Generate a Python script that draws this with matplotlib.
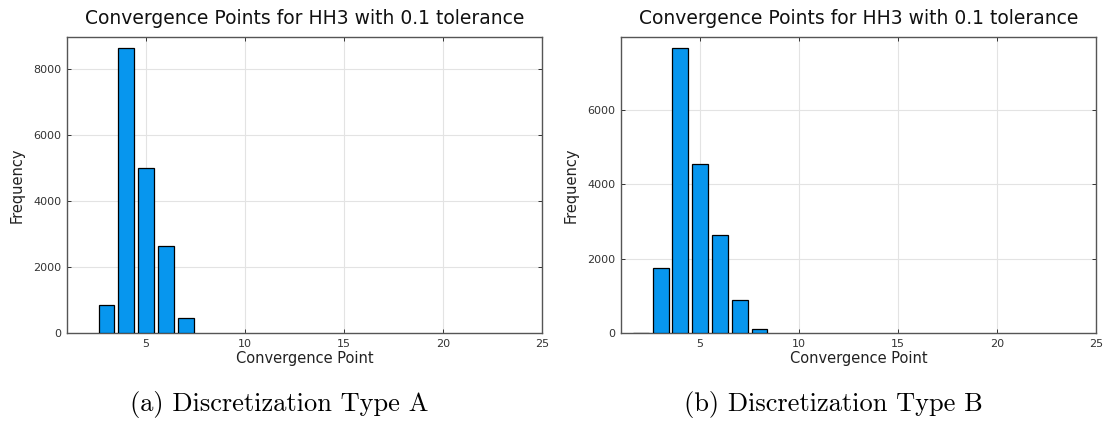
import numpy as np
import matplotlib.pyplot as plt

# convergence point bins and counts
points_a = [3, 4, 5, 6, 7]
counts_a = [850, 8620, 5010, 2650, 455]

points_b = [2, 3, 4, 5, 6, 7, 8]
counts_b = [8, 1745, 7650, 4540, 2635, 880, 108]

title = "Convergence Points for HH3 with 0.1 tolerance"
captions = ["(a) Discretization Type A", "(b) Discretization Type B"]
xticks = [5, 10, 15, 20, 25]

fig = plt.figure(figsize=(11.08, 4.21), dpi=100)
W, H = 1108, 421

def make_panel(left, pts, cnts, yticks, caption, cap_x):
    ax = fig.add_axes([left / W, 1 - 333 / H, 475 / W, 296 / H])
    ax.bar(pts, cnts, width=0.8, color="#0796ee", edgecolor="black", linewidth=0.9, zorder=3)
    ax.set_xlim(1, 25)
    ax.set_ylim(0, max(cnts) * 1.04)
    ax.set_xticks(xticks)
    ax.set_yticks(yticks)
    ax.grid(True, color="#e3e3e3", linewidth=0.8, zorder=0)
    ax.tick_params(direction="in", length=3, width=0.7, labelsize=8, colors="#333333",
                   top=True, right=True, pad=4)
    for s in ax.spines.values():
        s.set_color("#555555")
        s.set_linewidth(1.0)
    ax.set_title(title, fontsize=13.5, color="#111111", pad=9)
    ax.set_xlabel("Convergence Point", fontsize=10.5, color="#222222", labelpad=2)
    ax.set_ylabel("Frequency", fontsize=10.5, color="#222222", labelpad=6)
    fig.text(cap_x / W, 1 - 404 / H, caption, family="cmr10", fontsize=19,
             ha="center", va="center")
    return ax

make_panel(67, points_a, counts_a, [0, 2000, 4000, 6000, 8000], captions[0], 279)
make_panel(621, points_b, counts_b, [0, 2000, 4000, 6000], captions[1], 833)

fig.savefig("out.png", dpi=100)
